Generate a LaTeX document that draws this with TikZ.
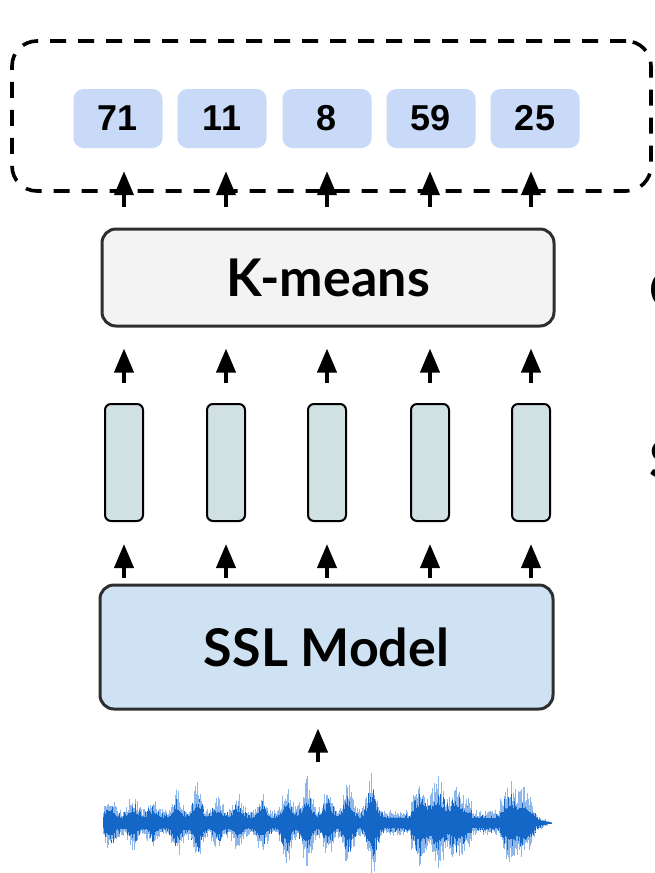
\documentclass[tikz,border=0pt]{standalone}
\usepackage{fontspec}
\setmainfont{Lato}
\newfontfamily\numfont{Liberation Sans}
\usetikzlibrary{arrows.meta}
\definecolor{tokfill}{HTML}{C9DAF8}
\definecolor{kmfill}{HTML}{F3F3F3}
\definecolor{sslfill}{HTML}{CFE2F3}
\definecolor{featfill}{HTML}{D0E0E3}
\definecolor{edgegray}{HTML}{2E2E2E}
\definecolor{wavedark}{HTML}{1467C6}
\definecolor{wavelight}{HTML}{8DB7EA}
\begin{document}
\begin{tikzpicture}[x=1pt,y=-1pt,
  token/.style={fill=tokfill, rounded corners=10pt, minimum width=89pt,
    minimum height=59pt, inner sep=0pt,
    font=\numfont\bfseries\fontsize{36}{36}\selectfont},
  bigbox/.style={draw=edgegray, line width=3pt, rounded corners=14pt,
    inner sep=0pt, font=\bfseries\fontsize{52}{52}\selectfont},
  featbox/.style={draw=black, line width=2pt, fill=featfill,
    rounded corners=6pt, minimum width=38pt, minimum height=117pt, inner sep=0pt},
  uparrow/.style={-{Triangle[width=19pt,length=24pt]}, line width=4pt},
  group/.style={draw=black, line width=3.6pt, dash pattern=on 16pt off 12pt,
    rounded corners=25pt, minimum width=639pt, minimum height=150pt},
  declare function={bp(\t,\c,\h)=\h*exp(-min(20,((\t-\c)/6)*((\t-\c)/6)));},
]
\useasboundingbox (0,0) rectangle (654,873);

% discrete unit tokens
\node[group] (grp) at (331.5,116) {};
\foreach \i/\x/\v in {1/118/71, 2/222/11, 3/327/8, 4/431/59, 5/535/25}
  \node[token] (t\i) at (\x,118.5) {\v};

% clustering and encoder blocks
\node[bigbox, fill=kmfill, minimum width=452pt, minimum height=97pt] (km) at (328,277.5) {K-means};
\node[bigbox, fill=sslfill, minimum width=453pt, minimum height=124pt] (ssl) at (326.5,647) {SSL Model};

% frame-level feature vectors
\foreach \i/\x in {1/124, 2/226, 3/327, 4/430, 5/531}
  \node[featbox] (f\i) at (\x,462.5) {};

% arrows
\foreach \i in {1,...,5}{
  \draw[uparrow, shorten <=21pt, shorten >=23pt] (f\i.north |- km.north) -- (f\i.north |- t\i.south);
  \draw[uparrow, shorten <=20pt, shorten >=21pt] (f\i.north) -- (f\i.north |- km.south);
  \draw[uparrow, shorten <=6pt, shorten >=22pt] (f\i.south |- ssl.north) -- (f\i.south);
}
\coordinate (wavetop) at (318,762);
\draw[uparrow, shorten >=18pt] (wavetop) -- (ssl.south -| wavetop);

% audio waveform: bursts on a noisy floor, tapering at the end
\pgfmathsetseed{42}
\foreach \x in {103.0,103.8,...,552.6}{
  \pgfmathsetmacro\env{(8 + (\x>411)*(\x<472)*8 + (\x>500)*(\x<536)*7
     + bp(\x,110,12) + bp(\x,133,10) + bp(\x,153,8) + bp(\x,177,14)
     + bp(\x,197,18) + bp(\x,218,10) + bp(\x,238,11) + bp(\x,262,12)
     + bp(\x,287,18) + bp(\x,307,22) + bp(\x,328,14) + bp(\x,348,20)
     + bp(\x,372,26) + bp(\x,420,12) + bp(\x,438,14) + bp(\x,457,10)
     + bp(\x,510,12) + bp(\x,523,10))
     *min(1,(553-\x)/24)*min(1,(\x-101)/4)}
  \pgfmathsetmacro\au{\env*(0.6+0.6*rnd^3)}
  \pgfmathsetmacro\ad{\env*(0.6+0.6*rnd^3)}
  \pgfmathsetmacro\lu{\env*(0.85+0.75*rnd^2)}
  \pgfmathsetmacro\ld{\env*(0.85+0.75*rnd^2)}
  \draw[wavelight, line width=0.8pt] (\x,823-\lu) -- (\x,823+\ld);
  \draw[wavedark, line width=0.9pt] (\x,823-\au) -- (\x,823+\ad);
}

% labels running off the right edge
\begin{scope}
  \clip (0,0) rectangle (654,873);
  \node[anchor=base west, inner sep=0pt, font=\bfseries\fontsize{52}{52}\selectfont] (lblc) at (649,308) {C};
  \node[anchor=base west, inner sep=0pt, font=\bfseries\fontsize{52}{52}\selectfont] (lbls) at (649,478) {S};
\end{scope}
\end{tikzpicture}
\end{document}
